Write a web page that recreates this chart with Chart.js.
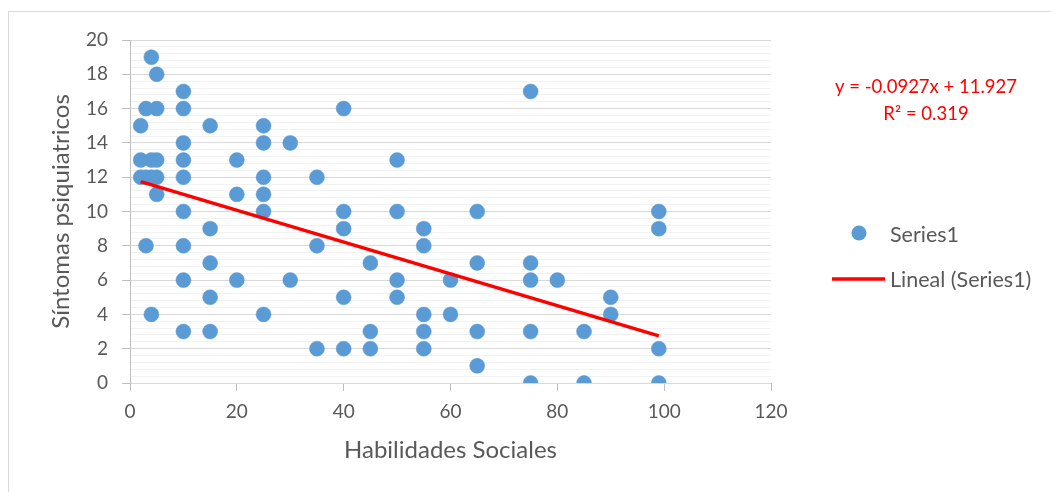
<!DOCTYPE html>
<html>
<head>
<meta charset="utf-8">
<script src="https://cdn.jsdelivr.net/npm/chart.js@4.4.1/dist/chart.umd.min.js"></script>
<style>
  html, body { margin: 0; padding: 0; background: #fff; }
  #wrap { position: relative; width: 1051px; height: 492px; }
</style>
</head>
<body>
<div id="wrap"><canvas id="c"></canvas></div>
<script>
// ---- Data ----
const habilidadesSociales = [
  4, 5, 10, 75, 3, 5, 10, 40, 2, 15, 25, 10, 25, 30,
  2, 4, 5, 10, 20, 50,
  2, 3, 4, 5, 10, 25, 35,
  5, 20, 25,
  10, 25, 40, 50, 65, 99,
  15, 40, 55, 99,
  3, 10, 35, 55,
  15, 45, 65, 75,
  10, 20, 30, 50, 60, 75, 80,
  15, 40, 50, 90,
  4, 25, 55, 60, 90,
  10, 15, 45, 55, 65, 75, 85,
  35, 40, 45, 55, 99,
  65,
  75, 85, 99
];
const sintomasPsiquiatricos = [
  19, 18, 17, 17, 16, 16, 16, 16, 15, 15, 15, 14, 14, 14,
  13, 13, 13, 13, 13, 13,
  12, 12, 12, 12, 12, 12, 12,
  11, 11, 11,
  10, 10, 10, 10, 10, 10,
  9, 9, 9, 9,
  8, 8, 8, 8,
  7, 7, 7, 7,
  6, 6, 6, 6, 6, 6, 6,
  5, 5, 5, 5,
  4, 4, 4, 4, 4,
  3, 3, 3, 3, 3, 3, 3,
  2, 2, 2, 2, 2,
  1,
  0, 0, 0
];
const seriesName = 'Series1';
const trendName = 'Lineal (Series1)';
const trendSlope = -0.0927;
const trendIntercept = 11.927;
const equationLines = ['y = -0.0927x + 11.927', 'R² = 0.319'];
const xTickValues = [0, 20, 40, 60, 80, 100, 120];
const yMajorTicks = [0, 2, 4, 6, 8, 10, 12, 14, 16, 18, 20];
const xTitle = 'Habilidades Sociales';
const yTitle = 'Síntomas psiquiatricos';

// ---- Build datasets ----
const points = habilidadesSociales.map((x, i) => ({ x: x, y: sintomasPsiquiatricos[i] }));
const xMin = Math.min(...habilidadesSociales);
const xMax = Math.max(...habilidadesSociales);
const trendPoints = [
  { x: xMin, y: trendSlope * xMin + trendIntercept },
  { x: xMax, y: trendSlope * xMax + trendIntercept }
];

const FONT = 'Lato, "Open Sans", "Noto Sans", sans-serif';
const GREY_TEXT = '#595959';
const BLUE = '#5B9BD5';
const RED = '#FF0000';

const decorPlugin = {
  id: 'decor',
  beforeDraw(chart) {
    const ctx = chart.ctx;
    ctx.save();
    ctx.fillStyle = '#ffffff';
    ctx.fillRect(0, 0, chart.width, chart.height);
    ctx.strokeStyle = '#D9D9D9';
    ctx.lineWidth = 1;
    ctx.strokeRect(8.5, 11.5, chart.width + 20, chart.height + 20);
    ctx.restore();
  },
  afterDraw(chart) {
    const ctx = chart.ctx;
    const area = chart.chartArea;
    ctx.save();
    // trendline equation
    ctx.fillStyle = RED;
    ctx.font = '18.5px ' + FONT;
    ctx.textAlign = 'center';
    ctx.textBaseline = 'middle';
    const ex = area.right + 155;
    ctx.fillText(equationLines[0], ex, 87);
    ctx.fillText(equationLines[1], ex, 114);

    // legend
    const lx = area.right;
    ctx.fillStyle = BLUE;
    ctx.beginPath();
    ctx.arc(lx + 88, 233, 7.5, 0, Math.PI * 2);
    ctx.fill();
    ctx.strokeStyle = RED;
    ctx.lineWidth = 3.5;
    ctx.beginPath();
    ctx.moveTo(lx + 61, 279);
    ctx.lineTo(lx + 114, 279);
    ctx.stroke();
    ctx.fillStyle = GREY_TEXT;
    ctx.font = '21.5px ' + FONT;
    ctx.textAlign = 'left';
    ctx.fillText(seriesName, lx + 119, 235);
    ctx.fillText(trendName, lx + 119, 280);
    ctx.restore();
  }
};

const isMajor = (v) => Math.abs(v / 2 - Math.round(v / 2)) < 1e-6;

new Chart(document.getElementById('c'), {
  type: 'scatter',
  data: {
    datasets: [
      {
        type: 'line',
        label: trendName,
        data: trendPoints,
        borderColor: RED,
        borderWidth: 3.5,
        pointRadius: 0,
        fill: false,
        order: 0
      },
      {
        label: seriesName,
        data: points,
        backgroundColor: BLUE,
        borderColor: BLUE,
        borderWidth: 0.5,
        pointRadius: 7.5,
        pointHoverRadius: 7.5,
        order: 1
      }
    ]
  },
  options: {
    responsive: true,
    maintainAspectRatio: false,
    animation: false,
    layout: { padding: { top: 40, right: 280, left: 0, bottom: 0 } },
    plugins: {
      legend: { display: false },
      tooltip: { enabled: false }
    },
    scales: {
      x: {
        type: 'linear',
        min: 0,
        max: 120,
        afterBuildTicks: (scale) => { scale.ticks = xTickValues.map(v => ({ value: v })); },
        ticks: {
          color: GREY_TEXT,
          font: { family: FONT, size: 19 },
          padding: 9,
          maxRotation: 0,
          autoSkip: false
        },
        grid: {
          drawOnChartArea: false,
          drawTicks: true,
          tickLength: 8,
          tickColor: '#BFBFBF',
          color: '#BFBFBF'
        },
        border: { display: false },
        title: {
          display: true,
          text: xTitle,
          color: GREY_TEXT,
          font: { family: FONT, size: 24 },
          padding: { top: 0, bottom: 27 }
        },
        afterFit: (scale) => { scale.height = 109; }
      },
      y: {
        type: 'linear',
        min: 0,
        max: 20,
        afterBuildTicks: (scale) => {
          const t = [];
          for (let i = 0; i <= 50; i++) t.push({ value: Math.round(i * 4) / 10 });
          scale.ticks = t;
        },
        ticks: {
          color: GREY_TEXT,
          font: { family: FONT, size: 19 },
          padding: 14,
          autoSkip: false,
          callback: (v) => (yMajorTicks.includes(Math.round(v * 10) / 10) && isMajor(v)) ? String(Math.round(v)) : ''
        },
        grid: {
          color: (ctx) => isMajor(ctx.tick.value) ? '#D9D9D9' : '#F2F2F2',
          lineWidth: 1,
          tickLength: 8,
          tickColor: (ctx) => isMajor(ctx.tick.value) ? '#BFBFBF' : 'rgba(0,0,0,0)'
        },
        border: { display: true, color: '#BFBFBF', width: 1 },
        title: {
          display: true,
          text: yTitle,
          color: GREY_TEXT,
          font: { family: FONT, size: 24 },
          padding: { top: 47, bottom: 0 }
        },
        afterFit: (scale) => { scale.width = 130; }
      }
    }
  },
  plugins: [decorPlugin]
});
</script>
</body>
</html>
